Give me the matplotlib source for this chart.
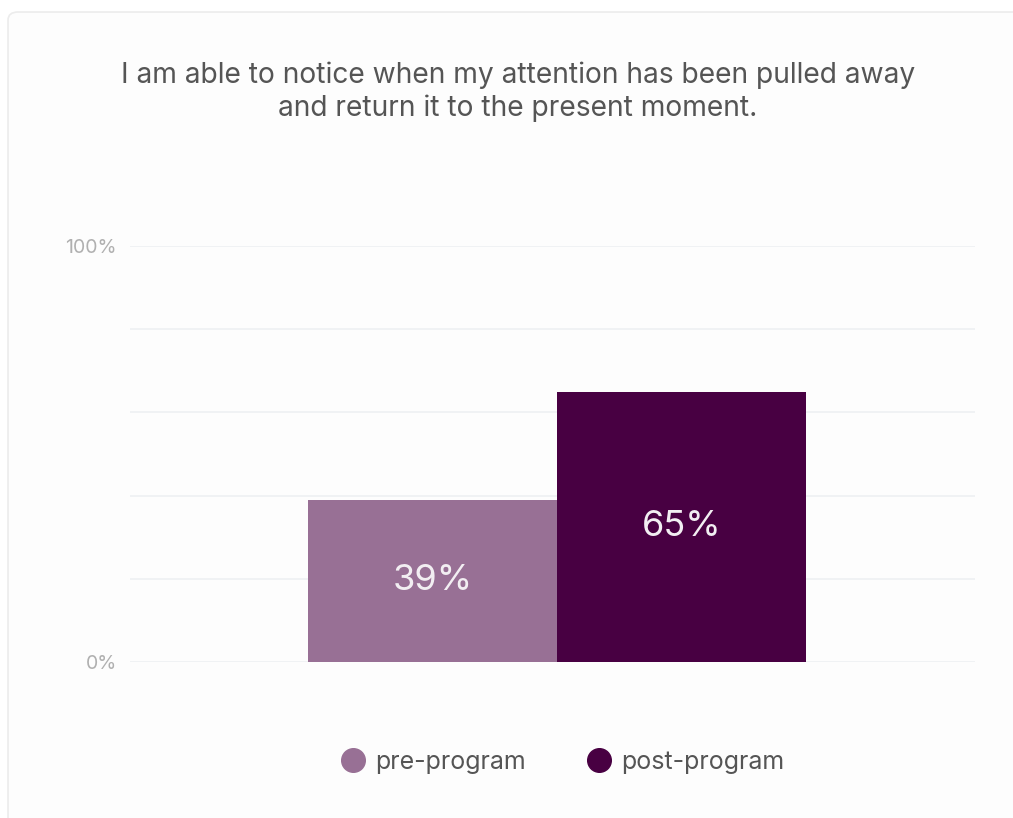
import matplotlib
matplotlib.use("Agg")
import matplotlib.pyplot as plt
from matplotlib.patches import FancyBboxPatch
from matplotlib.lines import Line2D

title = "I am able to notice when my attention has been pulled away\nand return it to the present moment."
series = ["pre-program", "post-program"]
values = [39, 65]
colors = ["#987095", "#480042"]
ytick_vals = [0, 100]
ytick_labels = ["0%", "100%"]
grid_vals = [0, 20, 40, 60, 80, 100]

plt.rcParams['font.family'] = ['Inter', 'DejaVu Sans']

W, H = 1013, 818
fig = plt.figure(figsize=(W / 100, H / 100), dpi=100)
fig.patch.set_facecolor("white")

# card
card = FancyBboxPatch((8 / W, -0.1), 1.2, (818 - 12) / H + 0.1,
                      boxstyle="round,pad=0,rounding_size=0.01",
                      transform=fig.transFigure, facecolor="#fdfdfd",
                      edgecolor="#ececec", linewidth=1.2, zorder=-10)
fig.patches.append(card)

ax = fig.add_axes([130 / W, (818 - 662) / H, 845 / W, 416 / H])
ax.set_zorder(5)
ax.set_facecolor("none")
ax.set_ylim(0, 100)
ax.set_xlim(-(557 - 130) / 845, (975 - 557) / 845)

bw = 249 / 845
offsets = [-bw / 2, bw / 2]
for off, v, c, name in zip(offsets, values, colors, series):
    ax.bar(off, v, width=bw, color=c, zorder=2, label=name)
    ax.text(off, v / 2, f"{v}%", ha="center", va="center", color="#f2eef2",
            fontsize=26, zorder=3)

for g in grid_vals:
    ax.axhline(g, color="#eef0f3", linewidth=1.2, zorder=1)

ax.set_yticks(ytick_vals)
ax.set_yticklabels(ytick_labels, color="#b0b0b0", fontsize=14)
ax.tick_params(axis="y", length=0, pad=9.5)
ax.set_xticks([])
for s in ax.spines.values():
    s.set_visible(False)

fig.text(518 / W, 1 - 92 / H, title, ha="center", va="center", color="#555555",
         fontsize=20.3, linespacing=1.25)

handles = [Line2D([0], [0], marker="o", linestyle="none", markersize=17,
                  markerfacecolor=c, markeredgecolor=c) for c in colors]
fig.legend(handles, series, loc="center", bbox_to_anchor=(561 / W, 1 - 762 / H),
           ncol=2, frameon=False, fontsize=18, labelcolor="#555555",
           handlelength=1.2, handletextpad=0.3, columnspacing=2.3)

fig.savefig("out.png", dpi=100)
